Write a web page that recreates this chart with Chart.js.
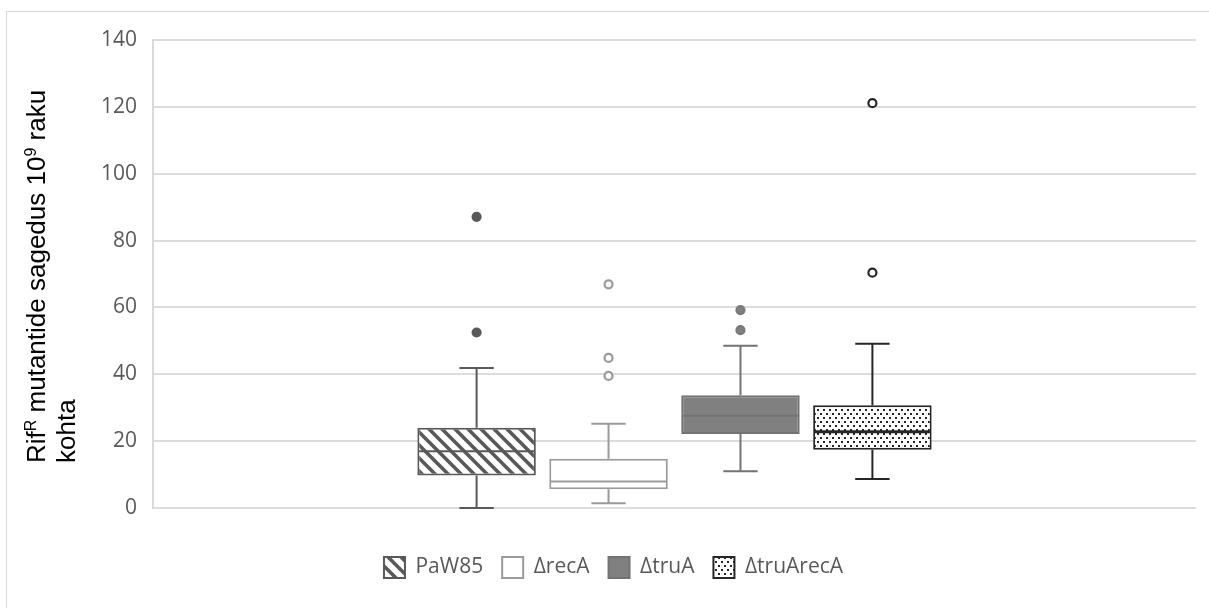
<!DOCTYPE html>
<html>
<head>
<meta charset="utf-8">
<script src="https://cdn.jsdelivr.net/npm/chart.js@4.4.1/dist/chart.umd.min.js"></script>
<style>
  html, body { margin: 0; padding: 0; background: #fff; overflow: hidden; }
  #frame { position: absolute; left: 6px; top: 11px; width: 1400px; height: 800px; border: 1px solid #d9d9d9; }
  #wrap { position: absolute; left: 0; top: 0; width: 1209px; height: 608px; }
</style>
</head>
<body>
<div id="frame"></div>
<div id="wrap"><canvas id="chart" width="1209" height="608"></canvas></div>
<script>
// Data
const categories = ['PaW85', 'ΔrecA', 'ΔtruA', 'ΔtruArecA'];
const q1 = [9.7, 5.6, 22.1, 17.4];
const q3 = [24.0, 14.7, 33.7, 30.7];
const medians = [17.0, 7.9, 27.6, 22.8];
const whiskerLow = [0, 1.4, 11.0, 8.7];
const whiskerHigh = [41.9, 25.2, 48.5, 49.1];
const outliers = [[52.5, 87.1], [39.5, 44.9, 66.9], [53.2, 59.2], [70.4, 121.1]];
const yMin = 0, yMax = 140, yStep = 20;
const yTitleLine1 = [['Rif', false], ['R', true], [' mutantide sagedus 10', false], ['9', true], [' raku', false]];
const yTitleLine2 = 'kohta';

// Pattern fills
function hatchPattern(color) {
  const s = 13;
  const c = document.createElement('canvas');
  c.width = c.height = s;
  const g = c.getContext('2d');
  g.fillStyle = '#fff';
  g.fillRect(0, 0, s, s);
  g.strokeStyle = color;
  g.lineWidth = 3.6;
  g.beginPath();
  for (let k = -1; k <= 1; k++) {
    g.moveTo(k * s - 2, -2);
    g.lineTo(k * s + s + 2, s + 2);
  }
  g.stroke();
  return g.createPattern(c, 'repeat');
}
function dotPattern(color) {
  const c = document.createElement('canvas');
  c.width = 6; c.height = 8;
  const g = c.getContext('2d');
  g.fillStyle = '#fff';
  g.fillRect(0, 0, 6, 8);
  g.fillStyle = color;
  g.fillRect(1, 1, 2, 2);
  g.fillRect(4, 5, 2, 2);
  return g.createPattern(c, 'repeat');
}

const styles = [
  { fill: hatchPattern('#595959'), line: '#595959', dot: '#595959', dotFill: '#595959', med: 2 },
  { fill: '#ffffff', line: '#9a9a9a', dot: '#9a9a9a', dotFill: '#ffffff', med: 2 },
  { fill: '#808080', line: '#737373', dot: '#7a7a7a', dotFill: '#808080', med: 2 },
  { fill: dotPattern('#262626'), line: '#262626', dot: '#262626', dotFill: '#ffffff', med: 3 }
];

const datasets = categories.map((name, i) => ({
  label: name,
  data: [[q1[i], q3[i]]],
  backgroundColor: styles[i].fill,
  borderColor: styles[i].line,
  borderWidth: 2,
  borderSkipped: false,
  categoryPercentage: 0.506,
  barPercentage: 0.898
}));

// whiskers, medians and outliers placed with the chart scales
const boxParts = {
  id: 'boxParts',
  afterDatasetsDraw(chart) {
    const ctx = chart.ctx;
    const y = chart.scales.y;
    chart.data.datasets.forEach((ds, i) => {
      const bar = chart.getDatasetMeta(i).data[0];
      if (!bar) return;
      const x = bar.x, w = bar.width, cap = w * 0.29;
      const st = styles[i];
      ctx.save();
      ctx.strokeStyle = st.line;
      // median
      ctx.lineWidth = st.med;
      ctx.beginPath();
      const ym = y.getPixelForValue(medians[i]);
      ctx.moveTo(x - w / 2 + 1, ym); ctx.lineTo(x + w / 2 - 1, ym);
      ctx.stroke();
      ctx.lineWidth = 2;
      ctx.beginPath();
      // upper whisker
      const yq3 = y.getPixelForValue(q3[i]), yh = y.getPixelForValue(whiskerHigh[i]);
      ctx.moveTo(x, yq3); ctx.lineTo(x, yh);
      ctx.moveTo(x - cap / 2, yh); ctx.lineTo(x + cap / 2, yh);
      // lower whisker
      const yq1 = y.getPixelForValue(q1[i]), yl = y.getPixelForValue(whiskerLow[i]);
      ctx.moveTo(x, yq1); ctx.lineTo(x, yl);
      ctx.moveTo(x - cap / 2, yl); ctx.lineTo(x + cap / 2, yl);
      ctx.stroke();
      // outliers
      outliers[i].forEach(v => {
        ctx.beginPath();
        ctx.arc(x, y.getPixelForValue(v), 4, 0, Math.PI * 2);
        ctx.fillStyle = st.dotFill;
        ctx.fill();
        ctx.strokeStyle = st.dot;
        ctx.lineWidth = 2.2;
        ctx.stroke();
      });
      ctx.restore();
    });
  }
};

// rotated y axis title with superscripts
const yTitle = {
  id: 'yTitle',
  afterDraw(chart) {
    const ctx = chart.ctx;
    const size = 26, supSize = 16;
    ctx.save();
    ctx.fillStyle = '#000';
    ctx.textBaseline = 'alphabetic';
    ctx.textAlign = 'left';
    ctx.translate(45, 463);
    ctx.rotate(-Math.PI / 2);
    let cx = 0;
    yTitleLine1.forEach(([txt, sup]) => {
      ctx.font = (sup ? supSize : size) + 'px "Liberation Sans", Arial, sans-serif';
      ctx.fillText(txt, cx, sup ? -size * 0.36 : 0);
      cx += ctx.measureText(txt).width;
    });
    ctx.font = size + 'px "Liberation Sans", Arial, sans-serif';
    ctx.fillText(yTitleLine2, 0, 30);
    ctx.restore();
  }
};

new Chart(document.getElementById('chart'), {
  type: 'bar',
  data: { labels: [''], datasets },
  plugins: [boxParts, yTitle],
  options: {
    responsive: false,
    animation: false,
    layout: { padding: { left: 31, right: 13, top: 40, bottom: 20 } },
    scales: {
      x: {
        grid: { display: false },
        border: { display: false },
        ticks: { display: false },
        afterFit(scale) { scale.height = 30; }
      },
      y: {
        min: yMin,
        max: yMax,
        ticks: {
          stepSize: yStep,
          padding: 16,
          color: '#595959',
          font: { family: '"Open Sans", sans-serif', size: 21 }
        },
        grid: { color: '#dcdcdc', lineWidth: 2, drawTicks: false },
        border: { display: true, color: '#d9d9d9', width: 2 },
        afterFit(scale) { scale.width = 122; }
      }
    },
    plugins: {
      tooltip: { enabled: false },
      legend: {
        position: 'bottom',
        labels: {
          boxWidth: 21,
          boxHeight: 21,
          padding: 19,
          color: '#595959',
          font: { family: '"Open Sans", sans-serif', size: 21 }
        }
      }
    }
  }
});
</script>
</body>
</html>
